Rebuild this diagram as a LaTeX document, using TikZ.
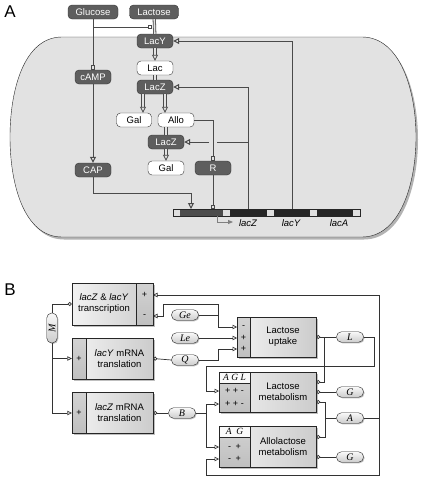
\documentclass[tikz,border=0pt]{standalone}
\usepackage{fontspec}
\setmainfont{Liberation Serif}
\setsansfont{Liberation Sans}
\usetikzlibrary{arrows.meta}
\usetikzlibrary{calc}
\usetikzlibrary{shadows}
\usetikzlibrary{positioning}

\definecolor{cellgray}{HTML}{E2E2E2}
\definecolor{molgray}{HTML}{5E5E5E}
\definecolor{linegray}{HTML}{4A4A4A}

\tikzset{
  molnode/.style={draw=black!80, fill=molgray, text=white, rounded corners=4pt,
    minimum width=36pt, minimum height=14pt, inner sep=0pt,
    font=\sffamily\fontsize{9.5}{10}\selectfont},
  metnode/.style={molnode, fill=white, text=black},
  aline/.style={draw=linegray, line width=1pt},
  actarrow/.style={-{Triangle[open,length=6pt,width=6pt]}},
  inharrow/.style={-{Square[open,length=4.5pt,width=4.5pt]}},
  fluxline/.style={draw=linegray, line width=0.8pt, double=cellgray, double distance=1.6pt},
  procbox/.style={draw=black!85, left color=gray!10, right color=gray!40, inner sep=0pt,
    drop shadow={opacity=0.5, shadow xshift=1.5pt, shadow yshift=-1.5pt}},
  regstrip/.style={draw=black!85, top color=gray!35, bottom color=gray!50, inner sep=0pt},
  tabhead/.style={draw=black!85, fill=gray!5, inner sep=0pt, font=\rmfamily\itshape\fontsize{9.5}{10}\selectfont},
  boxtext/.style={align=center, font=\sffamily\fontsize{9.5}{11}\selectfont},
  signtext/.style={font=\sffamily\fontsize{9}{9}\selectfont, align=center},
  varpill/.style={draw=black!85, rounded corners=5pt, top color=gray!5, bottom color=gray!40,
    minimum width=27pt, minimum height=10.5pt, inner sep=0pt,
    font=\rmfamily\itshape\fontsize{10}{10}\selectfont,
    drop shadow={opacity=0.5, shadow xshift=1pt, shadow yshift=-1pt}},
  bline/.style={draw=black!80, line width=0.7pt},
  inarrow/.style={-{Triangle[open,length=4.5pt,width=4.5pt]}},
  dotstart/.style={{Circle[open,length=4pt]}-},
  dotend/.style={-{Circle[open,length=4pt]}},
  panel/.style={font=\sffamily\fontsize{17}{17}\selectfont}
}

\begin{document}
\begin{tikzpicture}[x=1pt,y=-1pt]
\useasboundingbox (0,0) rectangle (426,479);

% A
\node[panel] (labA) at (10,12) {A};
\draw[black!85, fill=cellgray, drop shadow={opacity=0.6, shadow xshift=2pt, shadow yshift=-2.5pt}]
  (62,37) -- (362,37) .. controls (400,37) and (416,90) .. (416,137)
  .. controls (416,184) and (400,237) .. (362,237) -- (62,237)
  .. controls (24,237) and (10,184) .. (10,137)
  .. controls (10,90) and (24,37) .. (62,37) -- cycle;

\node[molnode, minimum width=50pt] (glc) at (93,12) {Glucose};
\node[molnode, minimum width=49pt] (lacout) at (154,12) {Lactose};
\node[molnode] (lacY) at (155,41) {LacY};
\node[metnode] (lacin) at (155,68) {Lac};
\node[molnode] (lacZa) at (155,87) {LacZ};
\node[metnode, minimum width=35pt] (galA) at (134,120) {Gal};
\node[metnode] (allo) at (176,120) {Allo};
\node[molnode] (lacZb) at (166,142) {LacZ};
\node[metnode] (galB) at (166,168) {Gal};
\node[molnode] (rep) at (213,168) {R};
\node[molnode] (camp) at (93,77) {cAMP};
\node[molnode] (cap) at (93,170) {CAP};

% operon
\fill[black!85] (172.5,208.5) rectangle (360.5,216.5);
\fill[gray!60!black] (180,209) rectangle (223,216);
\foreach \x in {173,223,267,310,353}
  \fill[gray!25] (\x,209) rectangle ++(7,7);
\draw[black!85, line width=0.6pt] (173,209) rectangle (360,216);
\coordinate (cs) at (191,209);
\coordinate (op) at (213,209);
\coordinate (pZ) at (248,209);
\coordinate (pY) at (292,209);
\coordinate (tss) at (217,216);
\node[font=\sffamily\itshape\fontsize{9.5}{10}\selectfont] (gZ) at (248,223) {lacZ};
\node[font=\sffamily\itshape\fontsize{9.5}{10}\selectfont] (gY) at (291,223) {lacY};
\node[font=\sffamily\itshape\fontsize{9.5}{10}\selectfont] (gA) at (339,223) {lacA};
\draw[gray, line width=0.8pt, -{Triangle[length=5pt,width=4pt]}] (tss) |- ([xshift=16pt,yshift=-6pt]tss);

\coordinate (excl) at (152,27);
\draw[aline, inharrow] (glc) -- (camp);
\draw[aline, inharrow] (glc |- excl) -- (excl);
\draw[aline, actarrow] (camp) -- (cap);
\draw[aline, actarrow] (cap.south) |- ([yshift=16pt]cs) -- (cs);

\draw[fluxline] (lacout) -- (lacY);
\draw[fluxline, actarrow] (lacY) -- (lacin);
\draw[fluxline] (lacin) -- (lacZa);
\draw[fluxline, actarrow] ([xshift=-12pt]lacZa.south) -- ([xshift=-12pt]lacZa.south |- galA.north);
\draw[fluxline, actarrow] ([xshift=10pt]lacZa.south) -- ([xshift=10pt]lacZa.south |- allo.north);
\draw[fluxline] (allo.south -| lacZb) -- (lacZb);
\draw[fluxline, actarrow] (lacZb) -- (galB);

\draw[aline, inharrow] (allo.east) -| (rep.north);
\draw[aline, inharrow] (rep.south) -- (op);
\draw[aline, actarrow] (pZ) |- (lacZa.east);
\draw[aline] (pZ |- lacZb) -- ([xshift=4pt]rep.center |- lacZb);
\draw[aline, actarrow] ([xshift=-4pt]rep.center |- lacZb) -- (lacZb.east);
\draw[aline, actarrow] (pY) |- (lacY.east);

% B
\node[panel] (labB) at (10,290) {B};

\node[procbox, minimum width=81pt, minimum height=42pt] (txn) at (112.5,304) {};
\node[regstrip, minimum width=17pt, minimum height=42pt, anchor=north east] (txnS) at (txn.north east) {};
\node[boxtext] at (104,304) {\textit{lacZ} \& \textit{lacY}\\transcription};
\node[signtext] at (144.5,295) {+};
\node[signtext] at (144.5,316) {-};

\node[procbox, minimum width=81pt, minimum height=41pt] (trY) at (112.5,358.5) {};
\node[regstrip, minimum width=14pt, minimum height=41pt, anchor=north west] at (trY.north west) {};
\node[boxtext] at (119.5,358.5) {\textit{lacY} mRNA\\translation};
\node[signtext] at (79,358.5) {+};

\node[procbox, minimum width=81pt, minimum height=41pt] (trZ) at (112.5,413) {};
\node[regstrip, minimum width=14pt, minimum height=41pt, anchor=north west] at (trZ.north west) {};
\node[boxtext] at (119.5,413) {\textit{lacZ} mRNA\\translation};
\node[signtext] at (79,413) {+};

\node[procbox, minimum width=79pt, minimum height=40pt] (upt) at (276.5,337) {};
\node[regstrip, minimum width=13pt, minimum height=40pt, anchor=north west] at (upt.north west) {};
\node[boxtext] at (283,337) {Lactose\\uptake};
\node[signtext] at (243.5,327) {-};
\node[signtext] at (243.5,338) {+};
\node[signtext] at (243.5,349) {+};

\node[procbox, minimum width=97pt, minimum height=40pt] (lmet) at (267.5,392) {};
\node[regstrip, minimum width=31pt, minimum height=40pt, anchor=north west] at (lmet.north west) {};
\node[tabhead, minimum width=31pt, minimum height=11pt, anchor=north west] at (lmet.north west) {A G L};
\node[boxtext] at (283,392) {Lactose\\metabolism};
\node[signtext] at (234.5,391) {+ + -};
\node[signtext] at (234.5,404) {+ + -};

\node[procbox, minimum width=97pt, minimum height=41pt] (amet) at (267.5,446.5) {};
\node[regstrip, minimum width=31pt, minimum height=41pt, anchor=north west] at (amet.north west) {};
\node[tabhead, minimum width=31pt, minimum height=11pt, anchor=north west] at (amet.north west) {A\enspace G};
\node[boxtext] at (283,446.5) {Allolactose\\metabolism};
\node[signtext] at (234.5,447) {-\enspace +};
\node[signtext] at (234.5,459) {-\enspace +};

\node[varpill] (Ge) at (185,315) {Ge};
\node[varpill] (Le) at (185,338) {Le};
\node[varpill] (Q) at (185,360) {Q};
\node[varpill] (Bz) at (182,413) {B};
\node[varpill] (L) at (350,337) {L};
\node[varpill] (G1) at (350,392) {G};
\node[varpill] (A) at (350,418) {A};
\node[varpill] (G2) at (350,457) {G};
\node[varpill, minimum width=30pt, rotate=90] (M) at (52,328) {M};

\coordinate (txnP) at (153,295);
\coordinate (txnM) at (153,316);
\coordinate (uptM) at (237,327);
\coordinate (uptP1) at (237,338);
\coordinate (uptP2) at (237,349);
\coordinate (lmetL) at (219,391);
\coordinate (lmetB) at (219,404);
\coordinate (ametB) at (219,447);
\coordinate (ametA) at (219,459);
\coordinate (geJ) at (218,315);
\coordinate (geK) at (163,304);
\coordinate (qK) at (218,360);
\coordinate (bJ) at (206,413);
\coordinate (lJ) at (374,366);
\coordinate (lK) at (206,366);
\coordinate (ljoin) at (324,337);
\coordinate (aJ) at (325,418);
\coordinate (fr) at (379,418);
\coordinate (loopA) at (206,475);

\draw[bline, dotend] (M.east) |- (txn.west);
\draw[bline, inarrow] (M.west) |- (trY.west);
\draw[bline, inarrow] (M.west) |- (trZ.west);
\draw[bline, dotstart] (trY.east) -- (Q.west);
\draw[bline, dotstart] (trZ.east) -- (Bz.west);

\draw[bline] (Ge.east) -- (geJ);
\draw[bline, inarrow] (geJ) |- (uptM);
\draw[bline, inarrow] (geJ) |- (geK) |- (txnM);
\draw[bline, inarrow] (Le.east) -- (uptP1);
\draw[bline, inarrow] (Q.east) -- (qK) |- (uptP2);

\draw[bline, dotstart] (upt.east) -- (L.west);
\draw[bline, inarrow] (L.east) -| (lJ) -- (lK) |- (lmetL);
\draw[bline, dotstart] ([yshift=10pt]lmet.east) -| (ljoin);
\draw[bline, dotstart] (lmet.east) -- (G1.west);
\draw[bline, dotstart] ([yshift=-10pt]lmet.east) -| (aJ) -- (A.west);
\draw[bline, dotstart] ([yshift=9.5pt]amet.east) -| (aJ);
\draw[bline, dotstart] ([yshift=-10.5pt]amet.east) -- (G2.west);

\draw[bline] (Bz.east) -- (bJ);
\draw[bline, inarrow] (bJ) |- (lmetB);
\draw[bline, inarrow] (bJ) |- (ametB);

\draw[bline, inarrow] (A.east) -- (fr) |- (txnP);
\draw[bline, inarrow] (fr) |- (loopA) |- (ametA);
\end{tikzpicture}
\end{document}
